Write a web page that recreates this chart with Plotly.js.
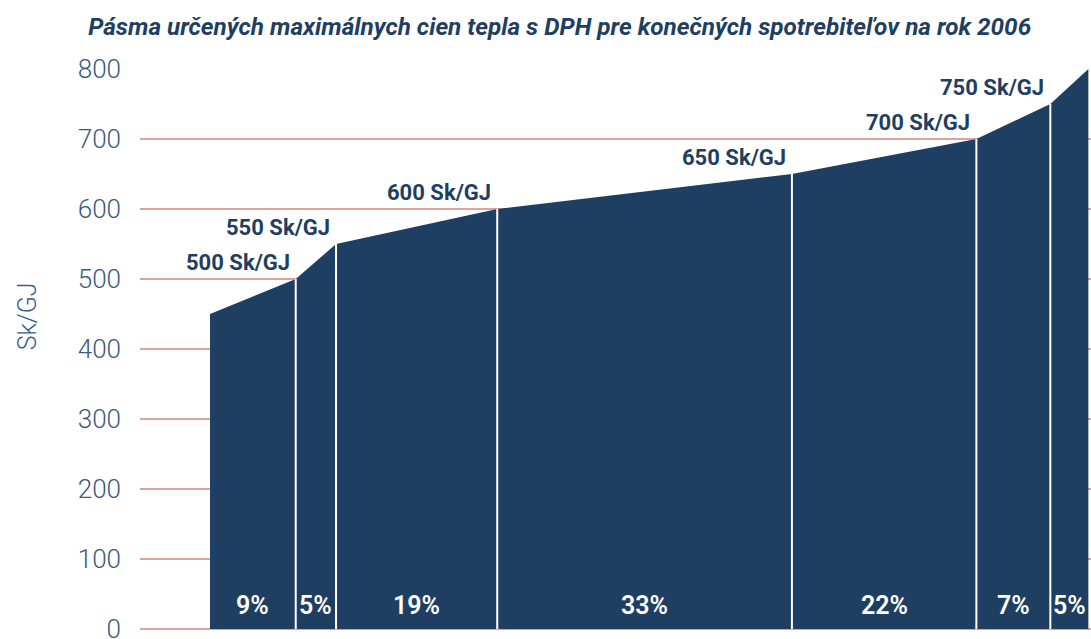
<!DOCTYPE html>
<html>
<head>
<meta charset="utf-8">
<script src="https://cdn.plot.ly/plotly-3.0.1.min.js"></script>
<style>html,body{margin:0;padding:0;background:#fff;}#chart{width:1091px;height:639px;}</style>
</head>
<body>
<div id="chart"></div>
<script>
// Data
const shareLabels = ['9%', '5%', '19%', '33%', '22%', '7%', '5%'];
// cumulative share (%) at the segment boundaries
const boundaries = [0, 9.76, 14.35, 32.7, 66.25, 87.25, 95.67, 100];
// price at each boundary (Sk/GJ)
const prices = [450, 500, 550, 600, 650, 700, 750, 800];
const priceLabels = ['500 Sk/GJ', '550 Sk/GJ', '600 Sk/GJ', '650 Sk/GJ', '700 Sk/GJ', '750 Sk/GJ'];
const yTicks = [0, 100, 200, 300, 400, 500, 600, 700, 800];

const NAVY = '#1f3f62';
const FONT = 'Roboto, "Open Sans", sans-serif';

const area = {
  type: 'scatter', mode: 'lines', x: boundaries, y: prices,
  fill: 'tozeroy', fillcolor: NAVY, line: {width: 0, color: NAVY},
  hoverinfo: 'skip', showlegend: false
};

// white separators between the bands
const sepX = [], sepY = [];
for (let i = 1; i < boundaries.length - 1; i++) {
  sepX.push(boundaries[i], boundaries[i], null);
  sepY.push(0, prices[i], null);
}
const seps = {
  type: 'scatter', mode: 'lines', x: sepX, y: sepY,
  line: {color: '#ffffff', width: 2}, hoverinfo: 'skip', showlegend: false
};

const annotations = [];
priceLabels.forEach((t, i) => {
  annotations.push({
    x: boundaries[i + 1], y: prices[i + 1], xref: 'x', yref: 'y',
    text: '<b>' + t + '</b>', showarrow: false, xanchor: 'right', yanchor: 'bottom',
    xshift: -5, yshift: 3, borderpad: 0,
    font: {family: FONT, size: 22, color: NAVY}
  });
});
shareLabels.forEach((t, i) => {
  annotations.push({
    x: (boundaries[i] + boundaries[i + 1]) / 2, y: 0, xref: 'x', yref: 'paper',
    text: t, showarrow: false, xanchor: 'center', yanchor: 'bottom',
    yshift: 8, borderpad: 0,
    font: {family: FONT, size: 25, color: '#ffffff', weight: 600}
  });
});
annotations.push({
  x: -0.118, y: 0.558, xref: 'paper', yref: 'paper', text: 'Sk/GJ',
  textangle: -90, showarrow: false, xanchor: 'center', yanchor: 'middle',
  font: {family: FONT, size: 25, color: '#34608f', weight: 300}
});

const layout = {
  width: 1091, height: 639,
  margin: {l: 140, r: 0, t: 69, b: 10},
  paper_bgcolor: '#ffffff', plot_bgcolor: '#ffffff',
  title: {
    text: '<b><i>Pásma určených maximálnych cien tepla s DPH pre konečných spotrebiteľov na rok 2006</i></b>',
    xref: 'container', yref: 'container', x: 0.513, y: 0.958, xanchor: 'center', yanchor: 'middle',
    font: {family: FONT, size: 24.3, color: NAVY}
  },
  xaxis: {
    range: [-7.97, 100.3], showgrid: false, zeroline: false, showline: false,
    showticklabels: false, ticks: '', fixedrange: true
  },
  yaxis: {
    range: [0, 800], tickvals: yTicks, ticktext: yTicks.map(String),
    showgrid: true, gridcolor: '#e0a39c', gridwidth: 2,
    zeroline: true, zerolinecolor: '#e0a39c', zerolinewidth: 2,
    showline: false, ticks: '', ticklabelstandoff: 18, ticklabeloverflow: 'allow',
    tickfont: {family: FONT, size: 26, color: '#3a5a7e', weight: 300}, fixedrange: true
  },
  annotations: annotations
};

Plotly.newPlot('chart', [area, seps], layout, {displayModeBar: false, staticPlot: true});
</script>
</body>
</html>
